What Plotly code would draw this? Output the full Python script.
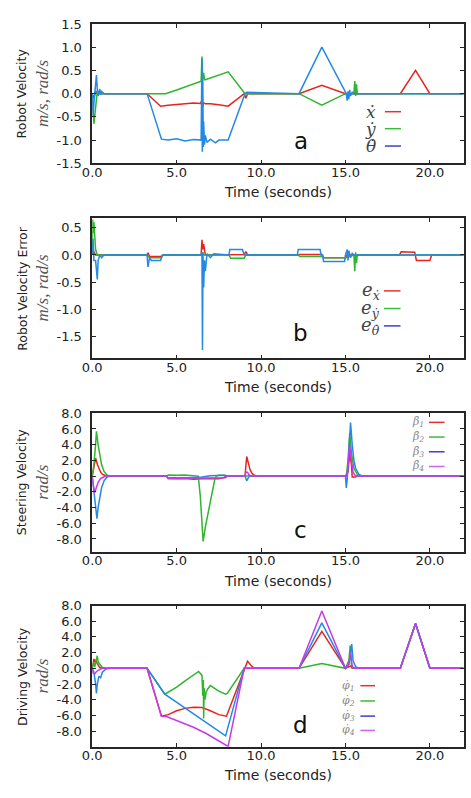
import plotly.graph_objects as go

W, H = 471, 798

# ---------------- DATA ----------------
# Panel a: robot velocity
a_xdot_t = [0, 0.05, 0.1, 0.2, 0.3, 3.25, 4.05, 4.5, 5.0, 5.5, 6.0, 6.4, 6.5, 6.55, 6.6, 6.7, 7.0, 7.5, 8.05, 9.0, 9.1, 9.2, 12.25, 13.6, 15.0, 18.25, 19.15, 20.0, 22]
a_xdot_v = [0, -0.05, -0.1, 0.05, 0, 0, -0.27, -0.25, -0.23, -0.22, -0.2, -0.21, -0.15, -0.28, -0.2, -0.22, -0.22, -0.24, -0.27, 0, -0.1, 0, 0, 0.18, 0, 0, 0.5, 0, 0]
a_ydot_t = [0, 0.05, 0.1, 0.2, 0.3, 0.5, 3.25, 4.35, 5.0, 6.0, 6.45, 6.5, 6.55, 6.6, 6.65, 6.7, 7.0, 7.5, 8.05, 9.05, 12.25, 13.6, 15.0, 15.5, 15.55, 15.6, 15.65, 15.7, 22]
a_ydot_v = [0, -0.3, -0.65, -0.3, 0.05, 0, 0, 0, 0.08, 0.2, 0.27, 0.8, 0.3, 0.45, 0.3, 0.3, 0.34, 0.4, 0.47, 0, 0, -0.25, 0, 0, 0.27, -0.05, 0.2, 0, 0]
a_thdot_t = [0, 0.05, 0.1, 0.2, 0.25, 0.3, 0.35, 0.45, 0.5, 0.55, 0.7, 3.25, 4.1, 4.5, 5.0, 5.5, 6.0, 6.45, 6.5, 6.52, 6.55, 6.58, 6.6, 6.65, 6.7, 6.8, 7.0, 7.3, 7.5, 8.05, 9.05, 9.15, 12.25, 13.6, 15.05, 15.1, 15.15, 15.2, 15.25, 15.3, 15.4, 15.5, 22]
a_thdot_v = [0, -0.5, -0.2, 0.2, 0.4, 0.1, -0.05, 0.1, -0.02, 0.05, 0, 0, -0.98, -1.0, -0.97, -1.02, -0.99, -1.0, 0.75, -1.25, 0.3, -1.15, -0.6, -1.1, -0.9, -1.05, -0.98, -1.06, -1.0, -1.0, 0, 0.03, 0, 1.0, 0, -0.15, 0.05, -0.12, 0.08, -0.05, 0.03, 0, 0]

# Panel b: robot velocity error
b_ex_t = [0, 0.05, 0.1, 0.2, 0.3, 3.25, 3.3, 3.4, 4.1, 4.2, 6.45, 6.5, 6.55, 6.6, 6.7, 8.1, 8.2, 9.0, 9.1, 9.2, 12.2, 12.3, 13.6, 13.7, 15.0, 15.1, 18.2, 18.3, 19.1, 19.2, 20.0, 20.1, 22]
b_ex_v = [0, 0.1, 0.05, 0, 0, 0, 0.04, -0.03, -0.03, 0, 0, 0.28, 0.1, 0.2, 0, 0, 0.01, 0.01, 0.06, 0, 0, 0.01, 0.01, -0.05, -0.05, 0, 0, 0.06, 0.05, -0.1, -0.1, 0, 0]
b_ey_t = [0, 0.03, 0.06, 0.1, 0.15, 0.2, 0.3, 3.25, 3.4, 4.1, 4.2, 6.5, 6.55, 6.6, 8.1, 8.2, 9.0, 9.1, 12.2, 12.3, 13.6, 13.7, 15.0, 15.5, 15.55, 15.6, 15.65, 15.7, 22]
b_ey_v = [0, 0.65, 0.4, 0.6, 0.2, 0.1, 0, 0, -0.05, -0.05, 0, 0, 0.05, 0, 0, -0.06, -0.06, 0, 0, -0.03, -0.03, -0.05, -0.05, 0, -0.3, 0.05, -0.15, 0, 0]
b_eth_t = [0, 0.05, 0.1, 0.2, 0.3, 0.35, 0.45, 0.55, 0.7, 3.25, 3.3, 3.4, 3.5, 4.05, 4.1, 4.15, 6.45, 6.5, 6.53, 6.56, 6.6, 6.65, 6.7, 6.8, 7.0, 7.2, 8.1, 8.15, 8.9, 9.0, 12.15, 12.2, 13.5, 13.55, 13.65, 13.7, 14.95, 15.0, 15.1, 15.15, 15.2, 15.3, 15.4, 15.5, 22]
b_eth_v = [0, 0.3, -0.1, -0.1, -0.45, -0.1, 0.0, -0.05, 0, 0, -0.22, -0.05, -0.1, -0.1, -0.05, 0, 0, 0.05, -1.75, 0.02, -0.6, -0.1, -0.3, 0.02, -0.05, 0.02, 0, 0.1, 0.1, 0, 0, 0.1, 0.1, 0, 0, -0.12, -0.12, 0, 0.1, -0.1, 0.08, -0.05, 0.03, 0, 0]

# Panel c: steering velocity
c_b1_t = [0, 0.1, 0.2, 0.3, 0.4, 0.5, 0.6, 0.8, 1.0, 4.4, 4.5, 5.0, 5.5, 6.0, 6.5, 7.0, 7.5, 7.8, 7.9, 9.05, 9.15, 9.25, 9.35, 9.45, 9.6, 9.8, 15.0, 15.15, 15.25, 15.35, 15.4, 15.6, 15.7, 22]
c_b1_v = [0, 1.0, 2.3, 1.5, 0.9, 0.5, 0.25, 0.05, 0, 0, -0.3, -0.35, -0.3, -0.4, -0.35, -0.3, -0.35, -0.2, 0, 0, 2.5, 1.5, 0.8, 0.4, 0.1, 0, 0, 0.5, 3.0, 1.5, -0.1, -0.1, 0, 0]
c_b2_t = [0, 0.1, 0.2, 0.25, 0.35, 0.45, 0.55, 0.7, 0.85, 1.0, 4.4, 4.5, 5.0, 5.5, 6.0, 6.28, 6.4, 6.5, 6.57, 6.7, 6.85, 6.96, 7.1, 7.25, 7.35, 7.5, 7.9, 8.0, 15.05, 15.15, 15.25, 15.35, 15.5, 15.7, 15.9, 22]
c_b2_v = [0, 1.5, 4.0, 5.7, 4.0, 2.5, 1.5, 0.6, 0.2, 0, 0, 0.15, 0.1, 0.15, 0.1, 0, -2.5, -5.5, -8.3, -6.5, -4.8, -3.9, -2.0, -0.5, 0, 0.1, 0.1, 0, 0, 2.0, 5.5, 3.0, 1.0, 0.2, 0, 0]
c_b3_t = [0, 0.1, 0.2, 0.28, 0.35, 0.45, 0.55, 0.7, 0.85, 1.0, 4.4, 4.5, 5.5, 6.5, 7.0, 7.8, 7.9, 9.05, 9.15, 9.25, 9.35, 9.5, 15.0, 15.05, 15.1, 15.2, 15.3, 15.4, 15.5, 15.6, 15.8, 16.0, 22]
c_b3_v = [0, -2.0, -4.5, -5.4, -4.0, -2.5, -1.5, -0.6, -0.2, 0, 0, -0.2, -0.2, -0.1, 0.05, 0.1, 0, 0, -0.6, -0.2, 0.1, 0, 0, -1.5, -0.5, 3.0, 6.8, 4.0, 2.0, 1.0, 0.2, 0, 0]
c_b4_t = [0, 0.05, 0.15, 0.25, 0.35, 0.5, 0.7, 0.8, 4.4, 4.5, 7.9, 8.0, 9.05, 9.1, 9.2, 9.3, 9.4, 15.05, 15.15, 15.25, 15.35, 15.45, 15.6, 22]
c_b4_v = [0, -1.0, -2.1, -1.5, -0.8, -0.3, -0.05, 0, 0, -0.3, -0.2, 0, 0, 0.5, 0.5, 0.1, 0, 0, 1.0, 4.0, 2.0, 0.5, 0, 0]

# Panel d: driving velocity
d_p1_t = [0, 0.1, 0.15, 0.2, 0.3, 0.45, 0.6, 3.25, 4.1, 4.5, 5.0, 5.5, 6.0, 6.5, 7.0, 7.5, 7.95, 9.0, 9.2, 9.4, 9.6, 12.25, 13.6, 15.0, 15.3, 15.4, 18.25, 19.15, 20.0, 22]
d_p1_v = [0, 1.2, 0.8, 1.1, 0.6, 0.1, 0, 0, -6.1, -5.9, -5.4, -5.1, -4.95, -5.0, -5.4, -5.9, -6.1, 0, 0.9, 0.4, 0, 0, 4.7, 0, 0.3, 0, 0, 5.7, 0, 0]
d_p2_t = [0, 0.1, 0.15, 0.25, 0.3, 0.35, 0.45, 0.6, 0.8, 3.25, 4.3, 5.0, 5.5, 6.0, 6.3, 6.5, 6.55, 6.58, 6.6, 6.63, 6.68, 6.75, 6.85, 7.0, 7.2, 7.5, 7.9, 8.0, 9.0, 12.25, 13.6, 15.0, 15.2, 15.28, 15.35, 15.45, 18.25, 19.15, 20.0, 22]
d_p2_v = [0, 0.8, 0.2, 1.2, 1.6, 0.8, 0.5, 0.1, 0, 0, -3.3, -2.4, -1.6, -0.8, -0.4, -0.9, -3.5, -1.5, -6.4, -2.5, -4.0, -3.0, -2.6, -2.2, -2.5, -2.9, -3.3, -3.2, 0, 0, 0.6, 0, 1.0, 2.9, 0.5, 0, 0, 5.7, 0, 0]
d_p3_t = [0, 0.1, 0.2, 0.25, 0.3, 0.4, 0.5, 0.6, 0.8, 1.0, 3.25, 4.3, 7.9, 9.0, 12.25, 13.6, 15.0, 15.2, 15.37, 15.45, 15.6, 15.8, 18.25, 19.15, 20.0, 22]
d_p3_v = [0, -0.5, -2.0, -3.2, -2.0, -1.0, -1.2, -0.5, -0.1, 0, 0, -3.3, -8.6, 0, 0, 5.8, 0, 0.5, 3.1, 1.0, 0.2, 0, 0, 5.7, 0, 0]
d_p4_t = [0, 0.05, 0.15, 0.25, 0.4, 0.6, 3.25, 4.1, 4.4, 5.2, 6.0, 6.75, 7.4, 7.9, 8.05, 9.0, 12.25, 13.6, 15.0, 15.2, 15.3, 15.4, 15.5, 18.25, 19.15, 20.0, 22]
d_p4_v = [0, -0.6, -0.7, -0.4, -0.2, 0, 0, -6.1, -6.15, -6.8, -7.5, -8.3, -9.1, -9.8, -9.95, 0, 0, 7.3, 0, 0.5, 2.0, 0.3, 0, 0, 5.7, 0, 0]

x_ticks = [0, 5, 10, 15, 20]
x_ticktext = ["0.0", "5.0", "10.0", "15.0", "20.0"]
a_yticks = [-1.5, -1.0, -0.5, 0.0, 0.5, 1.0, 1.5]
b_yticks = [-1.5, -1.0, -0.5, 0.0, 0.5]
cd_yticks = [-8, -6, -4, -2, 0, 2, 4, 6, 8]

a_names = ["ẋ", "ẏ", "θ̇"]
b_names = ["e<sub>ẋ</sub>", "e<sub>ẏ</sub>", "e<sub>θ̇</sub>"]
c_names = ["β̇<sub>1</sub>", "β̇<sub>2</sub>", "β̇<sub>3</sub>", "β̇<sub>4</sub>"]
d_names = ["φ̇<sub>1</sub>", "φ̇<sub>2</sub>", "φ̇<sub>3</sub>", "φ̇<sub>4</sub>"]

# ---------------- STYLE ----------------
RED, GREEN, BLUE, MAG = "#e8231f", "#2fb52f", "#2389e6", "#c53ae8"
LEG_COLORS = ["#e83030", "#33c033", "#4040c8", "#cc66ee"]
FRAME = "#262626"
SANS = "DejaVu Sans"
SERIF = "Liberation Serif"
LEGSERIF = "DejaVu Serif"

def px(x):
    return x / W

def py(y):
    return 1 - y / H

panels = [
    dict(top=17.3, bot=159.3, yr=[-1.5, 1.5], yt=a_yticks, t1="Robot Velocity", t2="m/s, rad/s", L="a", Ly=137, Xy=189),
    dict(top=215, bot=358, yr=[-1.9, 0.68], yt=b_yticks, t1="Robot Velocity Error", t2="m/s, rad/s", L="b", Ly=332, Xy=387),
    dict(top=414, bot=555, yr=[-9.6, 8.0], yt=cd_yticks, t1="Steering Velocity", t2="rad/s", L="c", Ly=533, Xy=585),
    dict(top=610, bot=754, yr=[-10, 8], yt=cd_yticks, t1="Driving Velocity", t2="rad/s", L="d", Ly=732, Xy=783),
]

series = [
    [(a_xdot_t, a_xdot_v, RED), (a_ydot_t, a_ydot_v, GREEN), (a_thdot_t, a_thdot_v, BLUE)],
    [(b_ex_t, b_ex_v, RED), (b_ey_t, b_ey_v, GREEN), (b_eth_t, b_eth_v, BLUE)],
    [(c_b1_t, c_b1_v, RED), (c_b2_t, c_b2_v, GREEN), (c_b3_t, c_b3_v, BLUE), (c_b4_t, c_b4_v, MAG)],
    [(d_p1_t, d_p1_v, RED), (d_p2_t, d_p2_v, GREEN), (d_p3_t, d_p3_v, BLUE), (d_p4_t, d_p4_v, MAG)],
]

fig = go.Figure()
layout = dict(
    width=W, height=H, margin=dict(l=0, r=0, t=0, b=0),
    paper_bgcolor="white", plot_bgcolor="white", showlegend=False,
    font=dict(family=SANS, size=13, color="#222"),
)
annotations = []
shapes = []

X0, X1 = 84, 463.5
for i, p in enumerate(panels):
    k = "" if i == 0 else str(i + 1)
    for (t, v, c) in series[i]:
        fig.add_trace(go.Scatter(x=t, y=v, mode="lines", line=dict(color=c, width=1.5),
                                 xaxis="x" + k, yaxis="y" + k, hoverinfo="skip"))
    ytext = ["%.1f" % y for y in p["yt"]]
    layout["xaxis" + k] = dict(
        domain=[px(X0), px(X1)], anchor="y" + k, range=[0, 22],
        tickvals=x_ticks, ticktext=x_ticktext, ticks="inside", ticklen=4, tickwidth=1,
        tickcolor=FRAME, showline=True, linecolor=FRAME, linewidth=1.5, mirror="ticks",
        showgrid=False, zeroline=False, tickfont=dict(family=SANS, size=13, color="#222"),
        ticklabelstandoff=-4,
    )
    layout["yaxis" + k] = dict(
        domain=[py(p["bot"]), py(p["top"])], anchor="x" + k, range=p["yr"],
        tickvals=p["yt"], ticktext=ytext, ticks="inside", ticklen=4, tickwidth=1,
        tickcolor=FRAME, showline=True, linecolor=FRAME, linewidth=1.5, mirror="ticks",
        showgrid=False, zeroline=False, tickfont=dict(family=SANS, size=13, color="#222"),
        ticklabelstandoff=6,
    )
    cy = (p["top"] + p["bot"]) / 2
    annotations.append(dict(text=p["t1"], x=px(12), y=py(cy), xref="paper", yref="paper",
                            textangle=-90, showarrow=False, xanchor="center", yanchor="middle",
                            font=dict(family=SANS, size=12.5, color="#222")))
    annotations.append(dict(text="<i>" + p["t2"] + "</i>", x=px(33), y=py(cy), xref="paper", yref="paper",
                            textangle=-90, showarrow=False, xanchor="center", yanchor="middle",
                            font=dict(family=SERIF, size=17, color="#555")))
    annotations.append(dict(text=p["L"], x=px(297), y=py(p["Ly"]), xref="paper", yref="paper",
                            showarrow=False, xanchor="center", yanchor="middle",
                            font=dict(family=SANS, size=23, color="#111")))
    annotations.append(dict(text="Time (seconds)", x=px((X0 + X1) / 2), y=py(p["Xy"]), xref="paper", yref="paper",
                            showarrow=False, xanchor="center", yanchor="middle",
                            font=dict(family=SANS, size=14, color="#222")))

# Legends (label left, line right)
legends = [
    dict(names=a_names, ys=[106.7, 124, 141.7], tx=376, lx0=383, lx1=399.5, size=17, color="#444"),
    dict(names=b_names, ys=[289.3, 307.3, 325], tx=380, lx0=382, lx1=399, size=18, color="#444"),
    dict(names=c_names, ys=[423.3, 438.3, 453.3, 468.3], tx=425, lx0=428, lx1=444, size=11, color="#888"),
    dict(names=d_names, ys=[691.7, 707.3, 722.7, 737.3], tx=355, lx0=358, lx1=373, size=11, color="#888"),
]
for lg in legends:
    for j, (nm, yy) in enumerate(zip(lg["names"], lg["ys"])):
        annotations.append(dict(text="<i>" + nm + "</i>", x=px(lg["tx"]), y=py(yy), xref="paper", yref="paper",
                                showarrow=False, xanchor="right", yanchor="middle",
                                font=dict(family=LEGSERIF, size=lg["size"], color=lg["color"])))
        shapes.append(dict(type="line", xref="paper", yref="paper", x0=px(lg["lx0"]), x1=px(lg["lx1"]),
                           y0=py(yy), y1=py(yy), line=dict(color=LEG_COLORS[j], width=1.5)))

layout["annotations"] = annotations
layout["shapes"] = shapes
fig.update_layout(**layout)
fig.write_html("out.html")
